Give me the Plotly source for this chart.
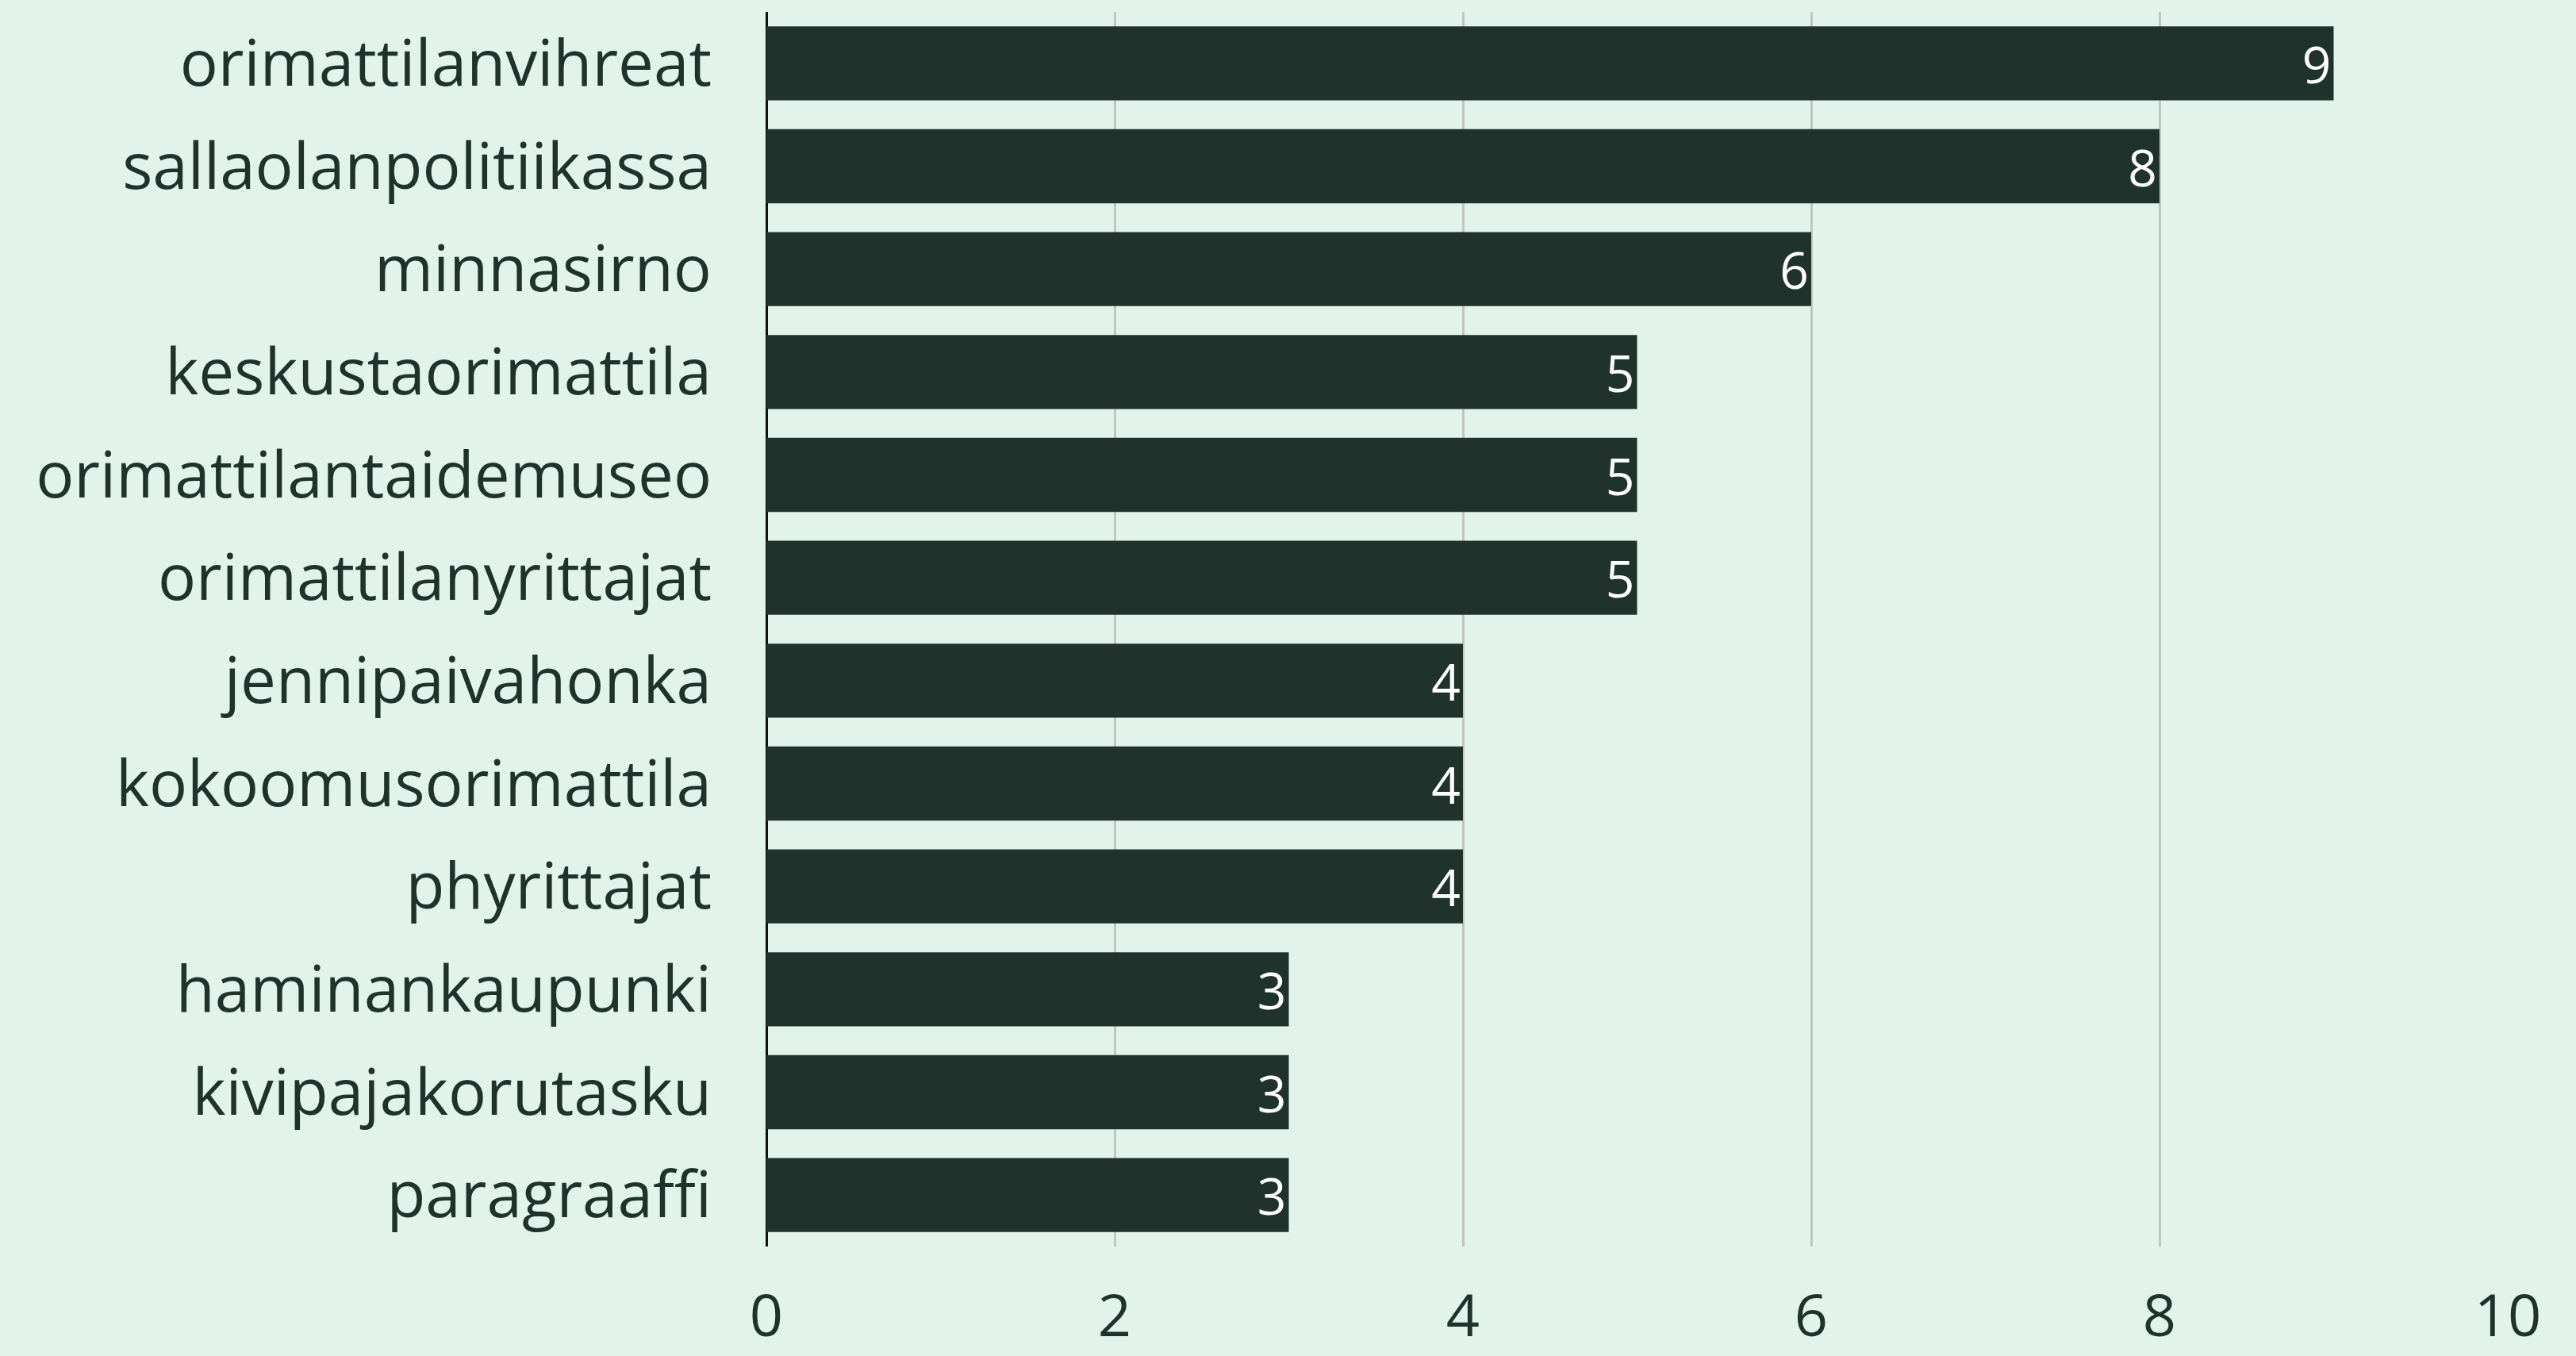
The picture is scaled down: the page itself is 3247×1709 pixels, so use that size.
import plotly.graph_objects as go

# accounts and their counts, top to bottom as in the chart
accounts = ['orimattilanvihreat', 'sallaolanpolitiikassa', 'minnasirno', 'keskustaorimattila',
            'orimattilantaidemuseo', 'orimattilanyrittajat', 'jennipaivahonka', 'kokoomusorimattila',
            'phyrittajat', 'haminankaupunki', 'kivipajakorutasku', 'paragraaffi']
counts = [9, 8, 6, 5, 5, 5, 4, 4, 4, 3, 3, 3]
x_ticks = [0, 2, 4, 6, 8, 10]

BG = '#E1F3EB'
DARK = '#1F322C'
FONT = 'Open Sans'

fig = go.Figure()
fig.add_trace(go.Bar(
    x=counts, y=accounts, orientation='h',
    marker=dict(color=DARK, line_width=0),
    text=counts, textposition='inside', insidetextanchor='end', textangle=0,
    textfont=dict(color='white', size=80, family=FONT),
    cliponaxis=False,
))

fig.update_layout(
    width=3247, height=1709,
    paper_bgcolor=BG, plot_bgcolor=BG,
    margin=dict(l=966, r=86, t=15, b=138),
    bargap=0.28,
    showlegend=False,
    font=dict(family=FONT, color=DARK, size=76),
)
fig.update_xaxes(
    range=[0, 10], tickvals=x_ticks, showgrid=True, gridcolor='#C2C6C3', gridwidth=3,
    zeroline=True, zerolinecolor='#111111', zerolinewidth=3,
    showline=False, ticks='', ticklabelstandoff=38, automargin=False,
    tickfont=dict(size=74, color=DARK, family=FONT),
)
fig.update_yaxes(
    autorange='reversed', showgrid=False, showline=False, ticks='',
    ticklabelstandoff=68, automargin=False,
    tickfont=dict(size=80, color=DARK, family=FONT),
)

# drop the page margin so the figure fills the window edge to edge
fig.write_html("out.html", config={'displayModeBar': False},
               post_script="document.body.style.margin='0';"
                           "document.body.style.background='%s';" % BG)
